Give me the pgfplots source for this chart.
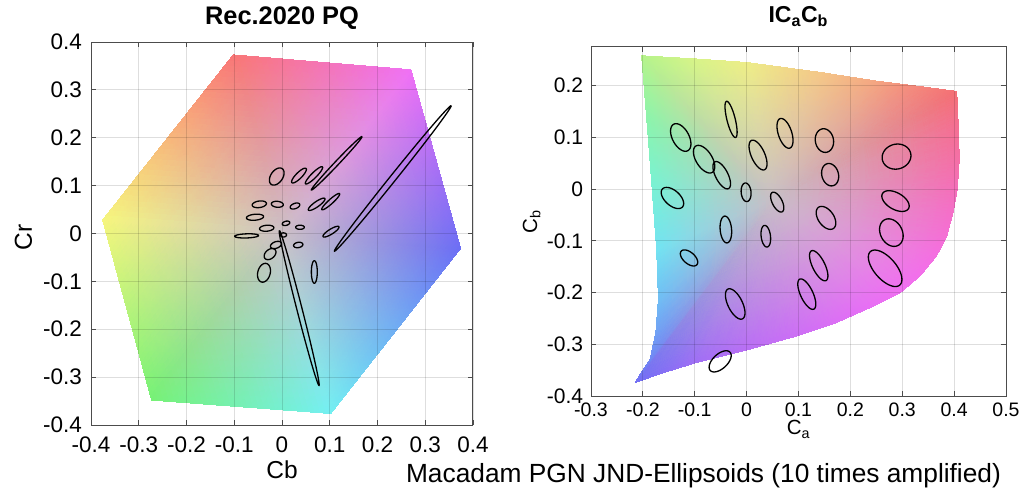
\documentclass[border=0pt]{standalone}
\usepackage{fontspec}
\setmainfont{Liberation Sans}
\usepackage{pgfplots}
\pgfplotsset{compat=1.18}
% ellipse: centre x, centre y, semi-major, semi-minor, angle (deg)
\newcommand{\E}[5]{\addplot[ellline, domain=0:360, samples=73]
  ({#1+#3*cos(#5)*cos(x)-#4*sin(#5)*sin(x)},{#2+#3*sin(#5)*cos(x)+#4*cos(#5)*sin(x)});}
\pgfplotsset{
  ellline/.style={black, line width=1.3pt, no marks, forget plot},
  common/.style={
    scale only axis, axis on top, grid=major,
    grid style={black, opacity=0.13, line width=0.8pt},
    axis line style={black!70, line width=1pt},
    tick style={black!70, line width=0.8pt},
    major tick length=5pt,
    /pgf/number format/assume math mode=true,
    xticklabel style={anchor=base, inner sep=0pt},
    yticklabel style={anchor=east, inner sep=0pt},
  }
}
\begin{document}
\begin{tikzpicture}[x=1pt,y=1pt]
\useasboundingbox (0pt,0pt) rectangle (1025pt,490pt);
% ---------------- left: Rec.2020 PQ ----------------
\begin{axis}[common,
  at={(91pt,65pt)}, anchor=south west, width=382pt, height=383pt,
  xmin=-0.4, xmax=0.4, ymin=-0.4, ymax=0.4,
  xtick={-0.4,-0.3,-0.2,-0.1,0,0.1,0.2,0.3,0.4},
  ytick={-0.4,-0.3,-0.2,-0.1,0,0.1,0.2,0.3,0.4},
  tick label style={font=\fontsize{22.5}{26}\selectfont},
  xticklabel style={yshift=-27pt},
  yticklabel style={xshift=-9pt},
  xlabel={Cb}, ylabel={Cr},
  label style={font=\fontsize{24.5}{28}\selectfont},
  xlabel style={at={(axis description cs:0.5,-0.1384)}, anchor=base},
  ylabel style={at={(axis description cs:-0.1545,0.49)}, anchor=base},
  title={Rec.2020 PQ},
  title style={at={(0.5,1.031)}, anchor=base, font=\bfseries\fontsize{25.4}{30}\selectfont},
]
\addplot[patch, shader=interp, mesh/color input=explicit, point meta=explicit symbolic, forget plot]
table[meta=c]{
x y c
0 0 rgb255=204,192,198
-0.102 0.373 rgb255=250,118,118
0.270 0.342 rgb255=240,112,245
0 0 rgb255=204,192,198
0.270 0.342 rgb255=240,112,245
0.374 -0.031 rgb255=108,110,245
0 0 rgb255=204,192,198
0.374 -0.031 rgb255=108,110,245
0.102 -0.376 rgb255=115,240,242
0 0 rgb255=204,192,198
0.102 -0.376 rgb255=115,240,242
-0.273 -0.348 rgb255=118,242,118
0 0 rgb255=204,192,198
-0.273 -0.348 rgb255=118,242,118
-0.3755 0.028 rgb255=246,246,125
0 0 rgb255=204,192,198
-0.3755 0.028 rgb255=246,246,125
-0.102 0.373 rgb255=250,118,118
};
\E{-0.011}{0.119}{0.020}{0.0125}{55}
\E{0.0356}{0.121}{0.021}{0.0062}{45}
\E{0.067}{0.1215}{0.025}{0.0055}{45}
\E{0.1145}{0.1466}{0.077}{0.0042}{46.5}
\E{-0.0475}{0.061}{0.015}{0.0068}{8}
\E{-0.0098}{0.061}{0.0125}{0.0062}{-5}
\E{0.0272}{0.0574}{0.0105}{0.0055}{20}
\E{0.0726}{0.061}{0.021}{0.0055}{35}
\E{0.102}{0.0665}{0.025}{0.0047}{42}
\E{-0.0565}{0.034}{0.018}{0.0062}{5}
\E{-0.032}{0.011}{0.015}{0.0062}{5}
\E{0.0084}{0.0213}{0.008}{0.0043}{15}
\E{0.0377}{0.013}{0.009}{0.0043}{0}
\E{-0.074}{-0.005}{0.025}{0.0043}{2}
\E{0.003}{-0.003}{0.0065}{0.0043}{0}
\E{0.1026}{0.0038}{0.0195}{0.0052}{32}
\E{0.034}{-0.024}{0.0098}{0.0055}{10}
\E{-0.0126}{-0.024}{0.012}{0.0068}{20}
\E{-0.025}{-0.043}{0.014}{0.0095}{40}
\E{-0.0377}{-0.082}{0.020}{0.013}{75}
\E{0.0677}{-0.0804}{0.0235}{0.0062}{90}
\E{0.036}{-0.1556}{0.167}{0.0055}{104.4}
\E{0.232}{0.115}{0.195}{0.0065}{51.2}
\end{axis}
% ---------------- right: ICaCb ----------------
\begin{axis}[common,
  at={(591pt,94pt)}, anchor=south west, width=415pt, height=349pt,
  xmin=-0.3, xmax=0.5, ymin=-0.4, ymax=0.275,
  xtick={-0.3,-0.2,-0.1,0,0.1,0.2,0.3,0.4,0.5},
  ytick={-0.4,-0.3,-0.2,-0.1,0,0.1,0.2},
  xticklabel style={yshift=-20.7pt, font=\fontsize{19.5}{23}\selectfont},
  yticklabel style={xshift=-7.7pt, font=\fontsize{21}{24}\selectfont},
  xlabel={C\textsubscript{a}}, ylabel={C\textsubscript{b}},
  label style={font=\fontsize{20.5}{24}\selectfont},
  xlabel style={at={(axis description cs:0.5,-0.1117)}, anchor=base},
  ylabel style={at={(axis description cs:-0.130,0.5)}, anchor=base},
  title={IC\textsubscript{a}C\textsubscript{b}},
  title style={at={(0.4995,1.0536)}, anchor=base, font=\bfseries\fontsize{23}{27}\selectfont},
]
\addplot[patch, shader=interp, mesh/color input=explicit, point meta=explicit symbolic, forget plot]
table[meta=c]{
x y c
0.05 -0.02 rgb255=200,190,198
-0.2024 0.258 rgb255=180,245,138
-0.100 0.252 rgb255=215,245,135
0.05 -0.02 rgb255=200,190,198
-0.100 0.252 rgb255=215,245,135
0.000 0.245 rgb255=238,238,135
0.05 -0.02 rgb255=200,190,198
0.000 0.245 rgb255=238,238,135
0.141 0.226 rgb255=245,200,135
0.05 -0.02 rgb255=200,190,198
0.141 0.226 rgb255=245,200,135
0.250 0.209 rgb255=245,165,128
0.05 -0.02 rgb255=200,190,198
0.250 0.209 rgb255=245,165,128
0.330 0.199 rgb255=245,135,122
0.05 -0.02 rgb255=200,190,198
0.330 0.199 rgb255=245,135,122
0.405 0.189 rgb255=245,110,115
0.05 -0.02 rgb255=200,190,198
0.405 0.189 rgb255=245,110,115
0.408 0.122 rgb255=245,110,145
0.05 -0.02 rgb255=200,190,198
0.408 0.122 rgb255=245,110,145
0.410 0.058 rgb255=245,110,165
0.05 -0.02 rgb255=200,190,198
0.410 0.058 rgb255=245,110,165
0.406 0.000 rgb255=245,110,185
0.05 -0.02 rgb255=200,190,198
0.406 0.000 rgb255=245,110,185
0.398 -0.045 rgb255=245,110,200
0.05 -0.02 rgb255=200,190,198
0.398 -0.045 rgb255=245,110,200
0.386 -0.090 rgb255=245,110,212
0.05 -0.02 rgb255=200,190,198
0.386 -0.090 rgb255=245,110,212
0.366 -0.129 rgb255=245,110,225
0.05 -0.02 rgb255=200,190,198
0.366 -0.129 rgb255=245,110,225
0.334 -0.168 rgb255=243,110,235
0.05 -0.02 rgb255=200,190,198
0.334 -0.168 rgb255=243,110,235
0.296 -0.200 rgb255=240,110,242
0.05 -0.02 rgb255=200,190,198
0.296 -0.200 rgb255=240,110,242
0.238 -0.229 rgb255=232,110,245
0.05 -0.02 rgb255=200,190,198
0.238 -0.229 rgb255=232,110,245
0.173 -0.258 rgb255=220,110,245
0.05 -0.02 rgb255=200,190,198
0.173 -0.258 rgb255=220,110,245
0.100 -0.283 rgb255=205,110,245
0.05 -0.02 rgb255=200,190,198
0.100 -0.283 rgb255=205,110,245
0.000 -0.311 rgb255=185,110,245
0.05 -0.02 rgb255=200,190,198
0.000 -0.311 rgb255=185,110,245
-0.096 -0.335 rgb255=160,110,245
0.05 -0.02 rgb255=200,190,198
-0.096 -0.335 rgb255=160,110,245
-0.161 -0.355 rgb255=132,110,245
0.05 -0.02 rgb255=200,190,198
-0.161 -0.355 rgb255=132,110,245
-0.215 -0.374 rgb255=112,110,245
0.05 -0.02 rgb255=200,190,198
-0.215 -0.374 rgb255=112,110,245
-0.186 -0.329 rgb255=110,135,245
0.05 -0.02 rgb255=200,190,198
-0.186 -0.329 rgb255=110,135,245
-0.175 -0.277 rgb255=110,160,245
0.05 -0.02 rgb255=200,190,198
-0.175 -0.277 rgb255=110,160,245
-0.170 -0.213 rgb255=110,190,245
0.05 -0.02 rgb255=200,190,198
-0.170 -0.213 rgb255=110,190,245
-0.1735 -0.116 rgb255=113,228,242
0.05 -0.02 rgb255=200,190,198
-0.1735 -0.116 rgb255=113,228,242
-0.183 0.013 rgb255=120,243,210
0.05 -0.02 rgb255=200,190,198
-0.183 0.013 rgb255=120,243,210
-0.193 0.142 rgb255=140,245,170
0.05 -0.02 rgb255=200,190,198
-0.193 0.142 rgb255=140,245,170
-0.2024 0.258 rgb255=180,245,138
};
\E{-0.127}{0.100}{0.029}{0.016}{118}
\E{-0.082}{0.058}{0.030}{0.0155}{122}
\E{-0.048}{0.027}{0.029}{0.012}{117}
\E{-0.030}{0.135}{0.036}{0.008}{104}
\E{0.022}{0.066}{0.031}{0.013}{114}
\E{0.074}{0.108}{0.030}{0.013}{108}
\E{0.150}{0.094}{0.023}{0.0175}{100}
\E{0.289}{0.063}{0.028}{0.024}{15}
\E{0.161}{0.028}{0.022}{0.016}{105}
\E{-0.143}{-0.017}{0.026}{0.0145}{138}
\E{-0.001}{-0.006}{0.018}{0.0095}{95}
\E{0.059}{-0.025}{0.021}{0.0095}{117}
\E{0.287}{-0.023}{0.029}{0.016}{150}
\E{0.153}{-0.0555}{0.025}{0.015}{125}
\E{-0.040}{-0.078}{0.026}{0.011}{95}
\E{0.037}{-0.091}{0.021}{0.009}{97}
\E{0.279}{-0.084}{0.028}{0.021}{118}
\E{-0.111}{-0.133}{0.020}{0.011}{139}
\E{0.139}{-0.148}{0.032}{0.012}{116}
\E{0.267}{-0.153}{0.043}{0.021}{131}
\E{0.116}{-0.203}{0.032}{0.012}{115}
\E{-0.022}{-0.222}{0.032}{0.014}{116}
\E{-0.051}{-0.333}{0.026}{0.014}{43}
\end{axis}
\node[anchor=base, font=\fontsize{26.3}{30}\selectfont] at (703.5pt,8pt) {Macadam PGN JND-Ellipsoids (10 times amplified)};
\end{tikzpicture}
\end{document}
